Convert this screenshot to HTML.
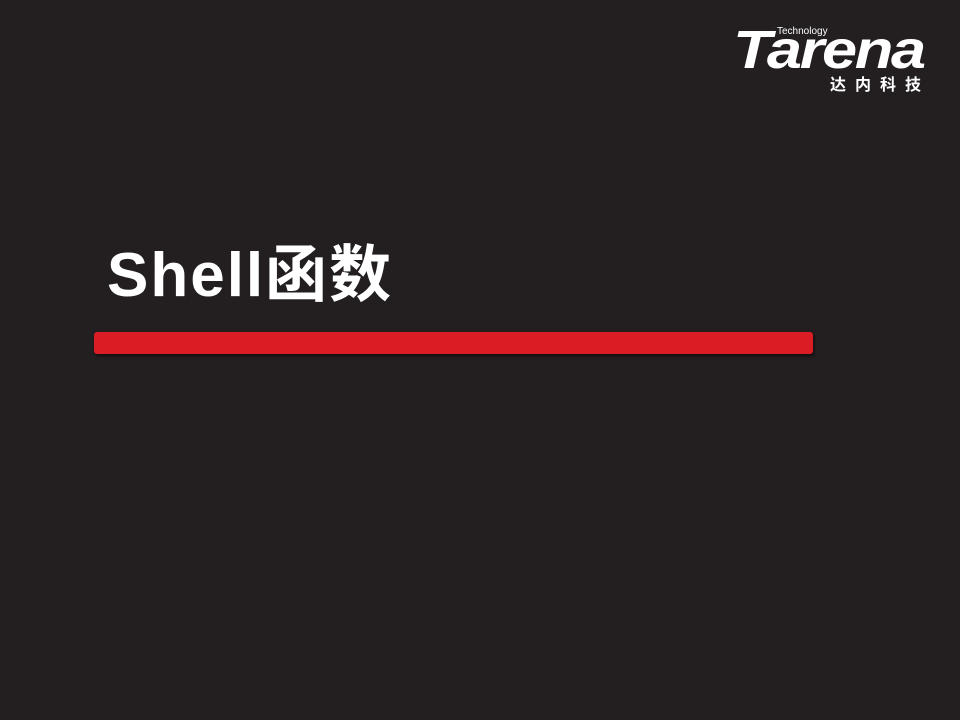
<!DOCTYPE html>
<html><head><meta charset="utf-8"><style>
html,body{margin:0;padding:0}
body{width:960px;height:720px;background:#231f20;position:relative;overflow:hidden;font-family:"Liberation Sans","Noto Sans CJK SC",sans-serif}
.logo{position:absolute;left:733px;top:22px;width:200px;height:80px}
.tarena{position:absolute;left:0;top:2px;font-size:54px;font-weight:bold;font-style:italic;color:#fff;letter-spacing:-2px;line-height:52px;transform:scaleX(1.17);transform-origin:left}
.tech{position:absolute;left:44px;top:5px;font-size:10px;color:#fff;line-height:10px}
.cn{position:absolute;left:97px;top:55px;font-size:16px;font-weight:bold;color:#fff;letter-spacing:9px;line-height:18px}
.title{position:absolute;left:107px;top:236px;font-size:62px;font-weight:bold;color:#fff;line-height:80px;white-space:nowrap;letter-spacing:2px}
.bar{position:absolute;left:94px;top:332px;width:719px;height:22px;background:#da1c24;border-radius:3px;box-shadow:1px 2px 3px rgba(0,0,0,.6)}
</style></head><body>
<div class="logo">
<div class="tarena">Tarena</div>
<div class="tech">Technology</div>
<div class="cn">达内科技</div>
</div>
<div class="title">Shell函数</div>
<div class="bar"></div>
</body></html>
